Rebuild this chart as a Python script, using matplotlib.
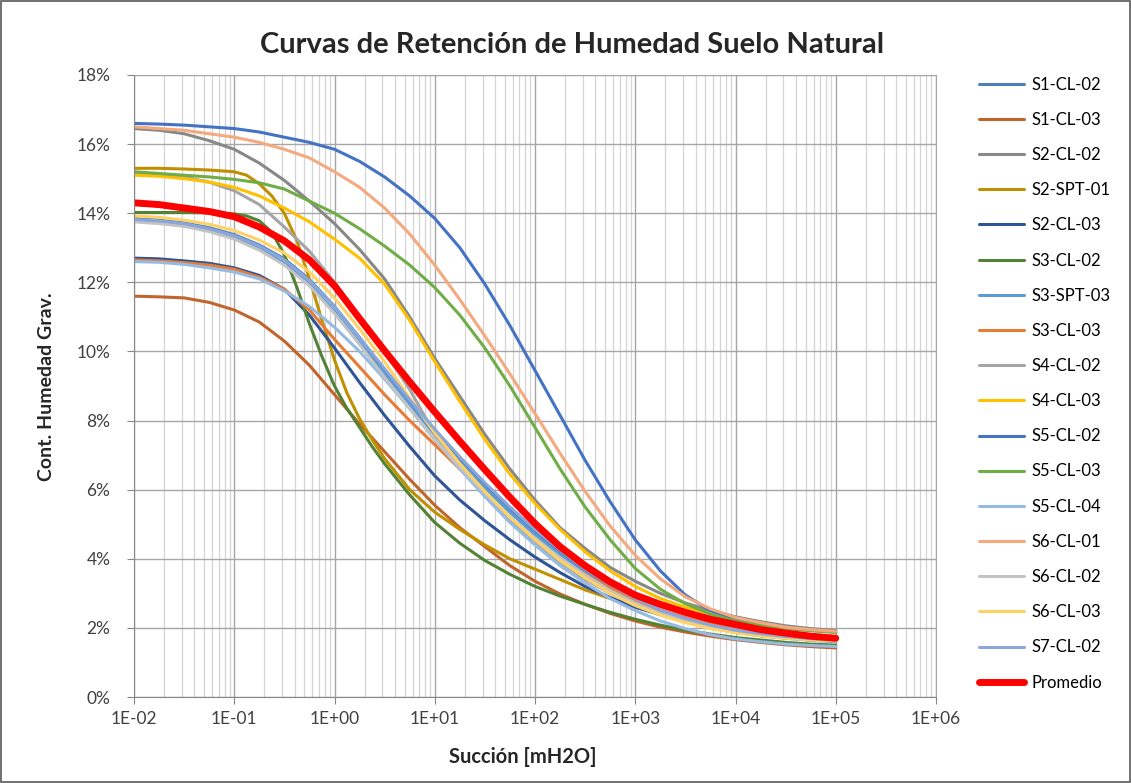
import numpy as np
import matplotlib
matplotlib.use('Agg')
import matplotlib.pyplot as plt
from matplotlib.ticker import FuncFormatter, LogLocator, MultipleLocator, NullFormatter
from matplotlib.patches import Rectangle

plt.rcParams['font.family'] = ['Lato', 'DejaVu Sans']

# succion [mH2O], cada cuarto de decada
succion = [0.01, 0.0178, 0.0316, 0.0562, 0.1, 0.178, 0.316, 0.562, 1, 1.78, 3.16, 5.62,
           10, 17.8, 31.6, 56.2, 100, 178, 316, 562, 1000, 1780, 3160, 5620,
           1e4, 1.78e4, 3.16e4, 5.62e4, 1e5]
# curvas con caida brusca: lecturas mas finas entre 0.1 y 3
succion_fino = [0.01, 0.0178, 0.0316, 0.0562, 0.1, 0.133, 0.178, 0.237, 0.316, 0.422, 0.562, 0.75,
                1, 1.33, 1.78, 2.37, 3.16, 5.62, 10, 17.8, 31.6, 56.2, 100, 178, 316, 562, 1000,
                1780, 3160, 5620, 1e4, 1.78e4, 3.16e4, 5.62e4, 1e5]

# contenido de humedad gravimetrico [%]
s1_cl_02 = [13.85, 13.8, 13.72, 13.58, 13.38, 13.08, 12.68, 12.08, 11.3, 10.4, 9.45, 8.55, 7.7, 6.9, 6.15,
            5.45, 4.8, 4.2, 3.66, 3.2, 2.8, 2.48, 2.23, 2.04, 1.9, 1.8, 1.72, 1.66, 1.62]
s1_cl_03 = [11.6, 11.58, 11.55, 11.42, 11.2, 10.85, 10.3, 9.6, 8.75, 7.9, 7.1, 6.3, 5.55, 4.9, 4.35,
            3.8, 3.35, 2.98, 2.68, 2.42, 2.2, 2.02, 1.88, 1.76, 1.66, 1.58, 1.51, 1.46, 1.42]
s2_cl_02 = [16.45, 16.4, 16.3, 16.1, 15.85, 15.45, 14.95, 14.35, 13.7, 12.95, 12.1, 11.0, 9.8, 8.7, 7.6,
            6.6, 5.7, 4.9, 4.3, 3.75, 3.35, 3.0, 2.72, 2.5, 2.32, 2.18, 2.06, 1.98, 1.92]
s2_spt_01 = [15.3, 15.3, 15.28, 15.25, 15.2, 15.1, 14.85, 14.5, 14.0, 13.2, 12.1, 10.9, 9.75, 8.8, 8.05,
             7.45, 6.9, 6.0, 5.35, 4.85, 4.4, 4.0, 3.7, 3.4, 3.1, 2.85, 2.6, 2.4, 2.22, 2.07, 1.95,
             1.85, 1.77, 1.71, 1.66]
s2_cl_03 = [12.7, 12.68, 12.62, 12.55, 12.42, 12.2, 11.8, 11.05, 10.1, 9.1, 8.15, 7.25, 6.4, 5.7, 5.1,
            4.55, 4.05, 3.6, 3.2, 2.88, 2.6, 2.38, 2.2, 2.05, 1.93, 1.83, 1.76, 1.7, 1.65]
s3_cl_02 = [14.02, 14.02, 14.02, 14.01, 13.98, 13.92, 13.78, 13.45, 12.8, 11.85, 10.8, 9.85, 9.0, 8.35,
            7.8, 7.25, 6.75, 5.85, 5.05, 4.45, 3.95, 3.55, 3.2, 2.92, 2.68, 2.45, 2.25, 2.08, 1.93,
            1.82, 1.72, 1.65, 1.58, 1.53, 1.5]
s3_spt_03 = [13.8, 13.75, 13.66, 13.5, 13.28, 12.97, 12.55, 11.95, 11.15, 10.25, 9.35, 8.45, 7.6, 6.8, 6.05,
             5.35, 4.7, 4.1, 3.58, 3.12, 2.74, 2.43, 2.19, 2.01, 1.87, 1.77, 1.7, 1.64, 1.6]
s3_cl_03 = [12.65, 12.62, 12.57, 12.5, 12.38, 12.15, 11.8, 11.2, 10.35, 9.55, 8.75, 8.0, 7.3, 6.6, 5.9,
            5.2, 4.55, 4.0, 3.55, 3.15, 2.8, 2.52, 2.3, 2.12, 1.98, 1.88, 1.8, 1.74, 1.7]
s4_cl_02 = [15.15, 15.12, 15.05, 14.9, 14.65, 14.25, 13.6, 12.9, 12.0, 11.0, 10.0, 8.9, 7.6, 6.7, 5.9,
            5.15, 4.5, 3.9, 3.4, 3.0, 2.65, 2.4, 2.2, 2.05, 1.95, 1.87, 1.8, 1.76, 1.73]
s4_cl_03 = [15.1, 15.07, 15.0, 14.9, 14.75, 14.5, 14.15, 13.75, 13.25, 12.7, 11.95, 10.9, 9.7, 8.55, 7.45,
            6.45, 5.6, 4.85, 4.2, 3.65, 3.2, 2.85, 2.6, 2.4, 2.23, 2.1, 2.0, 1.93, 1.88]
s5_cl_02 = [16.6, 16.58, 16.55, 16.5, 16.45, 16.35, 16.2, 16.05, 15.85, 15.5, 15.05, 14.5, 13.85, 13.0, 11.95,
            10.75, 9.45, 8.15, 6.85, 5.65, 4.55, 3.65, 2.95, 2.5, 2.25, 2.1, 2.0, 1.93, 1.88]
s5_cl_03 = [15.2, 15.15, 15.1, 15.05, 14.98, 14.88, 14.7, 14.35, 14.0, 13.55, 13.05, 12.5, 11.85, 11.05, 10.1,
            9.0, 7.8, 6.6, 5.5, 4.55, 3.72, 3.12, 2.7, 2.4, 2.2, 2.08, 1.98, 1.92, 1.87]
s5_cl_04 = [12.6, 12.58, 12.52, 12.42, 12.3, 12.1, 11.75, 11.3, 10.7, 10.0, 9.2, 8.35, 7.45, 6.6, 5.8,
            5.05, 4.4, 3.8, 3.3, 2.85, 2.5, 2.2, 1.98, 1.8, 1.68, 1.6, 1.53, 1.49, 1.46]
s6_cl_01 = [16.5, 16.45, 16.4, 16.3, 16.2, 16.05, 15.85, 15.6, 15.2, 14.75, 14.15, 13.4, 12.5, 11.5, 10.45,
            9.35, 8.2, 7.05, 5.95, 4.95, 4.1, 3.42, 2.9, 2.55, 2.3, 2.15, 2.02, 1.95, 1.9]
s6_cl_02 = [13.75, 13.7, 13.62, 13.47, 13.25, 12.93, 12.5, 11.9, 11.1, 10.2, 9.25, 8.35, 7.45, 6.65, 5.9,
            5.2, 4.6, 4.03, 3.53, 3.08, 2.72, 2.42, 2.2, 2.03, 1.9, 1.8, 1.73, 1.68, 1.64]
s6_cl_03 = [13.92, 13.88, 13.8, 13.68, 13.5, 13.22, 12.85, 12.3, 11.55, 10.65, 9.7, 8.65, 7.65, 6.75, 5.95,
            5.2, 4.55, 3.95, 3.45, 3.0, 2.65, 2.37, 2.15, 1.98, 1.86, 1.77, 1.7, 1.65, 1.62]
s7_cl_02 = [13.82, 13.78, 13.7, 13.55, 13.35, 13.05, 12.65, 12.05, 11.3, 10.4, 9.5, 8.6, 7.75, 6.95, 6.2,
            5.5, 4.85, 4.25, 3.7, 3.25, 2.85, 2.52, 2.27, 2.08, 1.93, 1.83, 1.75, 1.69, 1.65]
promedio = [14.3, 14.25, 14.15, 14.05, 13.9, 13.6, 13.2, 12.65, 11.9, 10.95, 10.02, 9.12, 8.25, 7.4, 6.58,
            5.78, 5.02, 4.35, 3.8, 3.33, 2.95, 2.68, 2.45, 2.25, 2.1, 1.95, 1.85, 1.76, 1.7]

nombres = ['S1-CL-02', 'S1-CL-03', 'S2-CL-02', 'S2-SPT-01', 'S2-CL-03', 'S3-CL-02', 'S3-SPT-03',
           'S3-CL-03', 'S4-CL-02', 'S4-CL-03', 'S5-CL-02', 'S5-CL-03', 'S5-CL-04', 'S6-CL-01',
           'S6-CL-02', 'S6-CL-03', 'S7-CL-02']
series = [s1_cl_02, s1_cl_03, s2_cl_02, s2_spt_01, s2_cl_03, s3_cl_02, s3_spt_03, s3_cl_03, s4_cl_02,
          s4_cl_03, s5_cl_02, s5_cl_03, s5_cl_04, s6_cl_01, s6_cl_02, s6_cl_03, s7_cl_02]
colores = ['#4F7FBA', '#C0652B', '#888888', '#C09000', '#2F5597', '#548235', '#5B9BD5', '#E67C35',
           '#A5A5A5', '#FFC000', '#4472C4', '#70AD47', '#95BBE3', '#F4A97F', '#C3C3C3', '#FFD265',
           '#8AA6DA']

W, H = 1131, 783
fig = plt.figure(figsize=(W / 100, H / 100), dpi=100)
ax = fig.add_axes([134 / W, 86 / H, 802 / W, 622 / H])

for nombre, vals, c in zip(nombres, series, colores):
    xs = succion_fino if len(vals) == len(succion_fino) else succion
    ax.plot(xs, np.array(vals) / 100, color=c, lw=2.2, label=nombre, solid_capstyle='round')
ax.plot(succion, np.array(promedio) / 100, color='#FF0000', lw=5, label='Promedio', solid_capstyle='round')

ax.set_xscale('log')
ax.set_xlim(1e-2, 1e6)
ax.set_ylim(0, 0.18)
ax.yaxis.set_major_locator(MultipleLocator(0.02))
ax.yaxis.set_major_formatter(FuncFormatter(lambda v, p: f'{v * 100:.0f}%'))
ax.xaxis.set_major_locator(LogLocator(base=10, numticks=20))
ax.xaxis.set_minor_locator(LogLocator(base=10, subs=np.arange(2, 10), numticks=200))
ax.xaxis.set_major_formatter(FuncFormatter(lambda v, p: f'{v:.0E}'))
ax.xaxis.set_minor_formatter(NullFormatter())

ax.grid(which='major', color='#a6a6a6', lw=1.0)
ax.grid(which='minor', axis='x', color='#d4d4d4', lw=0.9)
ax.set_axisbelow(True)
for s in ['top', 'right']:
    ax.spines[s].set_color('#a6a6a6')
for s in ['left', 'bottom']:
    ax.spines[s].set_color('#868686')
ax.tick_params(which='major', length=5, color='#868686', labelsize=12.5, labelcolor='#404040')
ax.tick_params(axis='y', pad=12)
ax.tick_params(axis='x', pad=5)
ax.tick_params(which='minor', length=0)

fig.text(572 / W, 1 - 45 / H, 'Curvas de Retención de Humedad Suelo Natural', ha='center', va='center',
         fontsize=21, fontweight='bold', color='#262626')
fig.text(523 / W, 1 - 757 / H, 'Succión [mH2O]', ha='center', va='center',
         fontsize=14.5, fontweight='bold', color='#262626')
fig.text(47 / W, 1 - 387 / H, 'Cont. Humedad Grav.', ha='center', va='center', rotation=90,
         fontsize=14, fontweight='bold', color='#262626')

fig.legend(loc='upper left', bbox_to_anchor=(972 / W, 1 - 70 / H), frameon=False, fontsize=12,
           handlelength=2.7, handletextpad=0.45, labelspacing=1.15, borderaxespad=0)

fig.patches.append(Rectangle((0.001, 0.001), 0.998, 0.998, transform=fig.transFigure, fill=False,
                             ec='#595959', lw=1.2))

fig.savefig('out.png', dpi=100)
